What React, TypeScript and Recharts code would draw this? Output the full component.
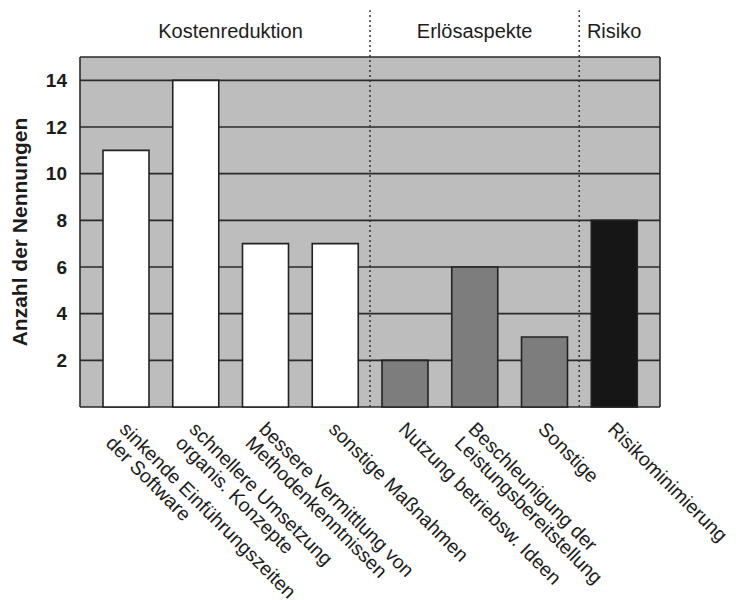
import React from 'react';
import { BarChart, Bar, XAxis, YAxis, CartesianGrid, Cell, ReferenceLine, ReferenceArea } from 'recharts';

const categoryLines = [
    ['sinkende Einführungszeiten', 'der Software'],
    ['schnellere Umsetzung', 'organis. Konzepte'],
    ['bessere Vermittlung von', 'Methodenkenntnissen'],
    ['sonstige Maßnahmen'],
    ['Nutzung betriebsw. Ideen'],
    ['Beschleunigung der', 'Leistungsbereitstellung'],
    ['Sonstige'],
    ['Risikominimierung'],
];
// slot centre of each category on the x axis (slots are 1 wide)
const slots = [0.5, 1.5, 2.5, 3.5, 4.5, 5.5, 6.5, 7.5];
const values = [11, 14, 7, 7, 2, 6, 3, 8];
const barGroup = [0, 0, 0, 0, 1, 1, 1, 2];

const groups = ['Kostenreduktion', 'Erlösaspekte', 'Risiko'];
const groupStart = [0, 4, 7];
const groupEnd = [4, 7, 8];
const groupColors = ['#ffffff', '#7d7d7d', '#161616'];

const yTicks = [0, 2, 4, 6, 8, 10, 12, 14, 15];

const data = categoryLines.map((lines, i) => ({ name: lines.join(' '), pos: slots[i], value: values[i] }));

const FONT = '"Liberation Sans", Arial, Helvetica, sans-serif';
const INK = '#1c1c1c';

const CategoryTick = (props: any) => {
    const { x, y, payload } = props;
    const idx = slots.indexOf(payload.value);
    const lines = categoryLines[idx] || [];
    return (
        <g transform={`translate(${x + 3},${y + 5})`}>
            <text transform="rotate(45)" textAnchor="start" fill={INK} fontSize={19.5} fontFamily={FONT}>
                {lines.map((l, i) => (
                    <tspan key={i} x={0} dy={i === 0 ? '0.75em' : '1.0em'}>{l}</tspan>
                ))}
            </text>
        </g>
    );
};

export default function App() {
    return (
        <div style={{ width: 728, height: 596, background: '#fff' }}>
            <BarChart width={728} height={596} data={data} margin={{ top: 49, right: 76, bottom: 0, left: 0 }}>
                <CartesianGrid
                    fill="#bdbdbd"
                    fillOpacity={1}
                    stroke="#2a2a2a"
                    strokeWidth={1.6}
                    verticalCoordinatesGenerator={({ offset }: any) => [offset.left, offset.left + offset.width]}
                />
                <XAxis
                    dataKey="pos"
                    type="number"
                    domain={[0, 8]}
                    allowDataOverflow
                    ticks={slots}
                    interval={0}
                    height={197}
                    axisLine={false}
                    tickLine={false}
                    padding={{ left: 11, right: 11 }}
                    tick={<CategoryTick />}
                />
                <YAxis
                    domain={[0, 15]}
                    ticks={yTicks}
                    width={72}
                    axisLine={false}
                    tickLine={false}
                    tickSize={6}
                    tickMargin={7}
                    tickFormatter={(v: number) => (v === 0 || v === 15 ? '' : String(v))}
                    tick={{ fill: INK, fontSize: 19, fontWeight: 'bold', fontFamily: FONT }}
                    label={{
                        value: 'Anzahl der Nennungen',
                        angle: -90,
                        position: 'insideLeft',
                        offset: 12,
                        fill: INK,
                        fontSize: 21,
                        fontWeight: 'bold',
                        fontFamily: FONT,
                        style: { textAnchor: 'middle' },
                    }}
                />
                <Bar dataKey="value" barSize={46} stroke="#222" strokeWidth={1.6} isAnimationActive={false}>
                    {data.map((entry, index) => (
                        <Cell key={`cell-${index}`} fill={groupColors[barGroup[index]]} />
                    ))}
                </Bar>
                {groupStart.slice(1).map((g) => (
                    <ReferenceLine
                        key={`div-${g}`}
                        segment={[{ x: g, y: 0 }, { x: g, y: 17 }]}
                        stroke="#333"
                        strokeWidth={1.5}
                        strokeDasharray="2 3"
                        ifOverflow="visible"
                    />
                ))}
                {groups.map((g, i) => (
                    <ReferenceArea
                        key={g}
                        x1={groupStart[i]}
                        x2={groupEnd[i]}
                        y1={15.4}
                        y2={16.8}
                        fill="none"
                        stroke="none"
                        ifOverflow="visible"
                        label={{ value: g, position: 'center', fill: INK, fontSize: 20, fontFamily: FONT }}
                    />
                ))}
            </BarChart>
        </div>
    );
}
